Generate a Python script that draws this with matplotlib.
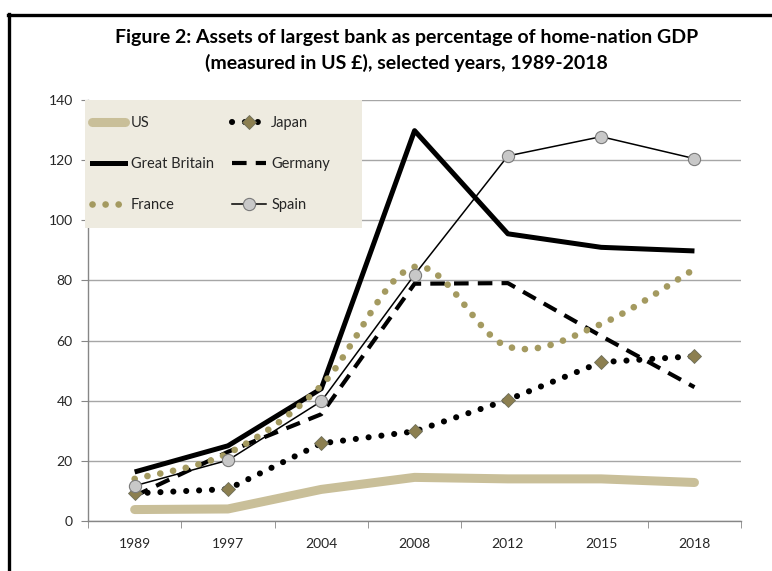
import numpy as np
import matplotlib
matplotlib.use("Agg")
import matplotlib.pyplot as plt
from matplotlib.lines import Line2D
from matplotlib.path import Path
from matplotlib.patches import PathPatch, Rectangle

years = ["1989", "1997", "2004", "2008", "2012", "2015", "2018"]
us = [3.8, 4.0, 10.5, 14.5, 14.0, 14.0, 12.8]
japan = [9.2, 10.6, 25.8, 29.8, 40.3, 52.8, 54.8]
britain = [16.3, 25.0, 44.0, 129.8, 95.5, 91.0, 89.8]
germany = [8.3, 23.0, 35.5, 78.9, 79.1, 61.5, 44.5]
france = [14.0, 22.5, 45.0, 84.5, 58.0, 65.5, 83.8]
spain = [11.7, 20.2, 39.8, 81.9, 121.4, 127.8, 120.5]

TAN = "#c9bf99"
OLIVE = "#a49a60"
DIAMOND = "#8c7f50"
GRID = "#a6a6a6"
TXT = "#262626"

FR_DOTS = (0, (0.01, 1.95))
JP_DOTS = (0, (0.01, 2.1))
DE_DASH = (0, (3.5, 2.2))


def smooth_path(xs, ys):
    # excel style smoothed line: catmull-rom segments as cubic beziers
    pts = np.column_stack([xs, ys]).astype(float)
    n = len(pts)
    verts = [pts[0]]
    codes = [Path.MOVETO]
    for i in range(n - 1):
        p0 = pts[max(i - 1, 0)]
        p1 = pts[i]
        p2 = pts[i + 1]
        p3 = pts[min(i + 2, n - 1)]
        c1 = p1 + (p2 - p0) / 6.0
        c2 = p2 - (p3 - p1) / 6.0
        verts += [c1, c2, p2]
        codes += [Path.CURVE4] * 3
    return Path(verts, codes)


plt.rcParams["font.family"] = ["Lato", "DejaVu Sans"]

fig = plt.figure(figsize=(7.72, 5.71), dpi=100)
ax = fig.add_axes([0.114, 0.0876, 0.846, 0.7373])

x = np.arange(len(years))

ax.plot(x, us, color=TAN, lw=6.5, solid_capstyle="round", zorder=3)
ax.plot(x, britain, color="black", lw=3.6, solid_capstyle="butt", zorder=4)
ax.plot(x, germany, color="black", lw=3.0, linestyle=DE_DASH, zorder=4)
fr = PathPatch(smooth_path(x, france), fill=False, edgecolor=OLIVE, lw=4.8,
               linestyle=FR_DOTS, capstyle="round", zorder=4)
ax.add_patch(fr)
ax.plot(x, japan, color="black", lw=4.4, linestyle=JP_DOTS,
        dash_capstyle="round", zorder=5)
ax.plot(x, japan, linestyle="none", marker="D", ms=7.5, mfc=DIAMOND,
        mec="#6e6e5a", mew=0.6, zorder=6)
ax.plot(x, spain, color="black", lw=1.1, marker="o", ms=8.8, mfc="#c8c8c8",
        mec="#7a7a7a", mew=0.8, zorder=7)

ax.set_xlim(-0.5, len(years) - 0.5)
ax.set_ylim(0, 140)
ax.set_yticks(range(0, 141, 20))
ax.set_xticks(x)
ax.set_xticklabels(years)
ax.set_xticks(np.arange(-0.5, len(years), 1.0), minor=True)
ax.tick_params(axis="x", which="major", length=0, pad=12, labelsize=10, labelcolor=TXT)
ax.tick_params(axis="x", which="minor", length=5, color="#868686", direction="out")
ax.tick_params(axis="y", length=5, color="#868686", pad=6, labelsize=10, labelcolor=TXT)
ax.grid(axis="y", color=GRID, lw=1.0)
ax.set_axisbelow(True)
for s in ["top", "right"]:
    ax.spines[s].set_visible(False)
for s in ["left", "bottom"]:
    ax.spines[s].set_color("#868686")
    ax.spines[s].set_linewidth(1.0)

# legend background box (bigger than the legend contents, like excel)
ax.add_patch(Rectangle((-0.005, 0.696), 0.425, 0.304, transform=ax.transAxes,
                       facecolor="#eeebe0", edgecolor="none", zorder=9,
                       clip_on=False))

handles = [
    Line2D([], [], color=TAN, lw=6.5, solid_capstyle="round"),
    Line2D([], [], color="black", lw=3.6),
    Line2D([], [], color=OLIVE, lw=4.8, linestyle=FR_DOTS, dash_capstyle="round"),
    Line2D([], [], color="black", lw=4.4, linestyle=JP_DOTS, dash_capstyle="round",
           marker="D", ms=7.5, mfc=DIAMOND, mec="#6e6e5a", mew=0.6),
    Line2D([], [], color="black", lw=3.0, linestyle=DE_DASH),
    Line2D([], [], color="black", lw=1.1, marker="o", ms=8.8, mfc="#c8c8c8",
           mec="#7a7a7a", mew=0.8),
]
labels = ["US", "Great Britain", "France", "Japan", "Germany", "Spain"]
leg = ax.legend(handles, labels, ncol=2, loc="upper left", bbox_to_anchor=(0.006, 0.962),
                borderaxespad=0, borderpad=0, frameon=False, fontsize=10.5,
                handlelength=2.3, handletextpad=0.38, columnspacing=1.25,
                labelspacing=1.85)
leg.set_zorder(10)
for t in leg.get_texts():
    t.set_color(TXT)

fig.text(0.527, 0.935, "Figure 2: Assets of largest bank as percentage of home-nation GDP",
         ha="center", va="center", fontsize=14, fontweight="bold", color="black")
fig.text(0.527, 0.889, "(measured in US \u00a3), selected years, 1989-2018",
         ha="center", va="center", fontsize=14, fontweight="bold", color="black")

# frame lines at top and left
fig.add_artist(Line2D([0.0105, 1.0], [0.9737, 0.9737], transform=fig.transFigure,
                      color="black", lw=2.4))
fig.add_artist(Line2D([0.0117, 0.0117], [0.0, 0.975], transform=fig.transFigure,
                      color="black", lw=2.4))

fig.savefig("out.png", dpi=100)
